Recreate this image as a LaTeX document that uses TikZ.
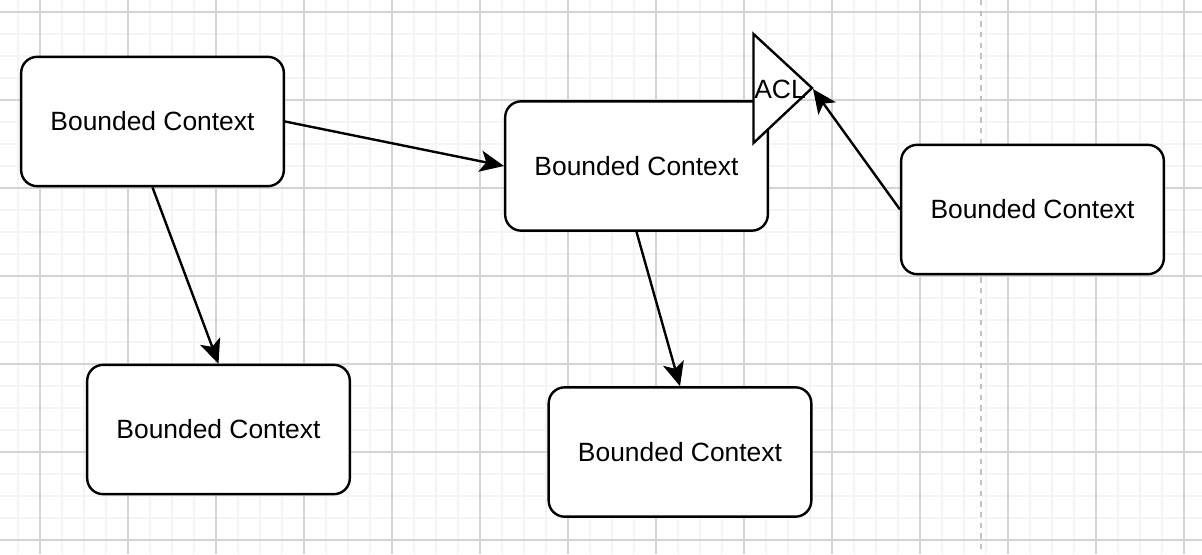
\documentclass[tikz,border=0pt]{standalone}
\usepackage{fontspec}
\setmainfont{Liberation Sans}
\usetikzlibrary{arrows.meta}
\definecolor{gridminor}{HTML}{F4F4F4}
\definecolor{gridmajor}{HTML}{D4D4D4}
\definecolor{divider}{HTML}{C0C0C0}
\tikzset{
  ctxbox/.style={draw=black, line width=1.8pt, fill=white, rounded corners=12pt,
    minimum width=197pt, minimum height=97pt, inner sep=0pt,
    font=\fontsize{19.8pt}{23pt}\selectfont},
  rel/.style={draw=black, line width=1.8pt,
    -{Stealth[length=18pt, width=16pt, inset=4.5pt]}},
}
\begin{document}
\begin{tikzpicture}[x=0.75pt, y=-0.75pt]
  \useasboundingbox (0,0) rectangle (1202,554);
  \fill[white] (0,0) rectangle (1202,554);
  % background grid: fine lines every 22 units, stronger every 88
  \foreach \gx in {18,40,...,1202} {
    \draw[gridminor, line width=1.1pt] (\gx,0) -- (\gx,554);
  }
  \foreach \gy in {12,34,...,554} {
    \draw[gridminor, line width=1.1pt] (0,\gy) -- (1202,\gy);
  }
  \foreach \gx in {40,128,...,1202} {
    \draw[gridmajor, line width=0.8pt] (\gx,0) -- (\gx,554);
  }
  \foreach \gy in {12,100,...,554} {
    \draw[gridmajor, line width=0.8pt] (0,\gy) -- (1202,\gy);
  }
  % page divider
  \draw[divider, line width=1.6pt, dash pattern=on 4pt off 4pt] (981,0) -- (981,554);

  % bounded contexts
  \node[ctxbox] (b1) at (152.5,121.5) {Bounded Context};
  \node[ctxbox] (b2) at (218.5,429.5) {Bounded Context};
  \node[ctxbox] (b3) at (636.5,166) {Bounded Context};
  \node[ctxbox] (b4) at (680,452) {Bounded Context};
  \node[ctxbox] (b5) at (1032.5,209.5) {Bounded Context};

  % anticorruption layer
  \draw[black, line width=1.8pt, fill=white, line join=miter]
    (753.5,34) -- (812,88) -- (753.5,143) -- cycle;
  \node[font=\fontsize{19.8pt}{23pt}\selectfont] (acl) at (780,89) {ACL};
  \coordinate (acltip) at (813,89);

  % relations
  \draw[rel] (b1.east) -- (b3.west);
  \draw[rel] (b1.south) -- (b2.north);
  \draw[rel] (b3.south) -- (b4.north);
  \draw[rel] (b5.west) -- (acltip);
\end{tikzpicture}
\end{document}
